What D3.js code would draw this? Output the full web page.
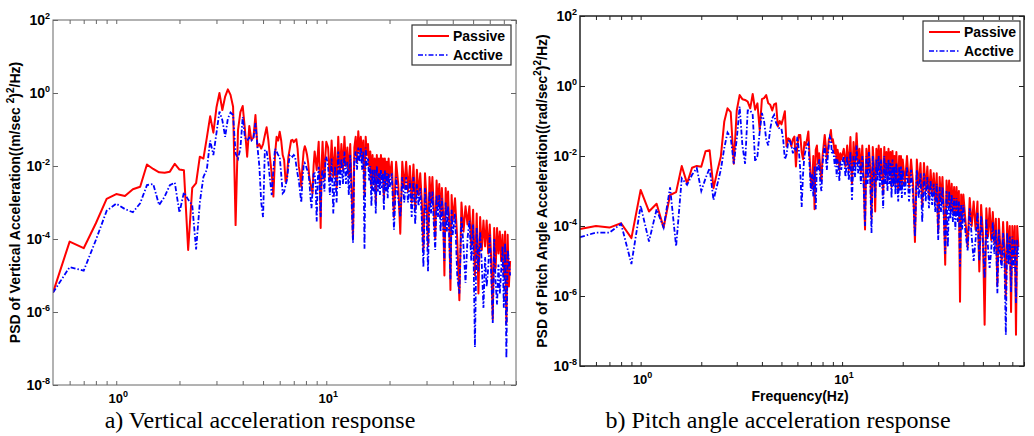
<!DOCTYPE html>
<html>
<head>
<meta charset="utf-8">
<script src="https://cdn.jsdelivr.net/npm/d3@7"></script>
<style>
  body { margin: 0; background: #fff; }
  svg { display: block; }
  text { font-family: Arial, "Liberation Sans", sans-serif; }
  text.caption { font-family: "Liberation Serif", "Times New Roman", serif; }
</style>
</head>
<body>
<svg id="chart" width="1034" height="436"></svg>
<script>
// frequency bins (Hz), shared by both panels
var freqHz = [
  0.5,0.6,0.7,0.8,0.9,1.0,1.1,1.2,1.3,1.4,
  1.5,1.6,1.7,1.8,1.9,2.0,2.1,2.2,2.3,2.4,
  2.5,2.6,2.7,2.8,2.9,3.0,3.1,3.2,3.3,3.4,
  3.5,3.6,3.7,3.8,3.9,4.0,4.1,4.2,4.3,4.4,
  4.5,4.6,4.7,4.8,4.9,5.0,5.1,5.2,5.3,5.4,
  5.5,5.6,5.7,5.8,5.9,6.0,6.1,6.2,6.3,6.4,
  6.5,6.6,6.7,6.8,6.9,7.0,7.1,7.2,7.3,7.4,
  7.5,7.6,7.7,7.8,7.9,8.0,8.1,8.2,8.3,8.4,
  8.5,8.6,8.7,8.8,8.9,9.0,9.1,9.2,9.3,9.4,
  9.5,9.6,9.7,9.8,9.9,10.0,
  10.2,10.4,10.6,10.8,11.0,11.2,11.4,11.6,11.8,12.0,
  12.2,12.4,12.6,12.8,13.0,13.2,13.4,13.6,13.8,14.0,
  14.2,14.4,14.6,14.8,15.0,15.2,15.4,15.6,15.8,16.0,
  16.2,16.4,16.6,16.8,17.0,17.2,17.4,17.6,17.8,18.0,
  18.2,18.4,18.6,18.8,19.0,19.2,19.4,19.6,19.8,20.0,
  20.5,21.0,21.5,22.0,22.5,23.0,23.5,24.0,24.5,25.0,
  25.5,26.0,26.5,27.0,27.5,28.0,28.5,29.0,29.5,30.0,
  30.5,31.0,31.5,32.0,32.5,33.0,33.5,34.0,34.5,35.0,
  35.5,36.0,36.5,37.0,37.5,38.0,38.5,39.0,39.5,40.0,
  41,42,43,44,45,46,47,48,49,50,
  51,52,53,54,55,56,57,58,59,60,
  61,62,63,64,65,66,67,68,69,70,
  71,72,73,74,75
];

// a) vertical acceleration PSD, (m/s^2)^2/Hz
var passiveVert = [
  3.4e-6,8.5e-5,5.6e-5,2.7e-4,1.25e-3,1.7e-3,1.5e-3,2.3e-3,2.7e-3,1.1e-2,
  8.3e-3,6.7e-3,6.5e-3,7e-3,1.15e-2,8e-3,7.6e-3,5e-5,2.5e-3,3.4e-3,
  1.8e-2,1.6e-2,6e-2,0.23,0.082,0.4,1.0,0.34,0.8,1.26,
  0.89,0.42,2.4e-4,0.097,0.3,0.44,0.1,0.018,0.125,0.052,
  0.06,0.25,0.034,0.04,0.03,0.04,0.07,0.115,0.05,0.016,
  0.006,1.45e-3,0.02,0.063,0.05,0.087,0.05,0.02,0.0146,3.7e-3,
  5e-3,0.018,0.03,0.05,0.052,0.045,0.05,0.054,0.03,9.6e-3,
  0.006,2.7e-3,0.01,0.025,0.035,0.028,0.02,0.012,5e-3,3.4e-3,
  2.5e-3,1.8e-3,0.01,0.025,0.015,7.8e-3,0.02,0.046,5e-3,2e-4,
  0.01,0.046,0.01,4.1e-3,0.02,0.046,
  3.2e-2,4e-3,5e-2,5e-3,3.2e-2,2.5e-3,6.3e-2,6.3e-3,4e-2,7.9e-3,
  6.3e-2,1e-2,3.2e-2,5e-3,4e-2,2.5e-3,1e-4,3.2e-2,6.3e-2,1.3e-2,
  8.9e-2,2.5e-2,6.3e-2,1.6e-2,5e-2,1.6e-3,6.3e-2,2e-2,4e-2,1e-2,
  2.5e-2,2.5e-3,2e-2,5e-3,1.6e-2,1e-3,2e-2,4e-3,1.6e-2,3.2e-3,
  2e-2,6.3e-3,1.6e-2,1.3e-3,1.6e-2,4e-3,1.3e-2,2.5e-3,1.6e-2,5e-3,
  1.3e-2,4e-4,1.3e-2,3.2e-3,1.4e-4,1.3e-2,2.5e-3,1.3e-2,2e-3,1e-2,
  1e-3,1.1e-2,6.3e-4,7.9e-3,1.6e-3,6.3e-3,1e-3,5e-5,6.3e-3,1.3e-3,
  6.3e-5,5e-3,1e-3,5e-3,6.3e-4,1e-4,4e-3,7.9e-4,3.2e-3,4e-4,
  2.5e-3,5e-4,1e-5,2.5e-3,5e-4,2e-3,2.5e-4,4e-6,1.6e-3,3.2e-4,
  1.3e-3,1e-4,2.1e-6,1e-3,1.6e-4,7.9e-4,2.5e-4,7.9e-4,6.3e-5,6.3e-4,
  1e-5,5e-4,3.2e-6,4e-4,5e-5,3.2e-4,6.3e-5,3.2e-4,4e-5,2.5e-4,
  2.5e-5,6.3e-7,2e-4,1.6e-5,2e-4,4e-5,1.6e-4,2.5e-5,1.3e-4,1e-5,
  1.6e-4,5e-7,1.3e-4,5e-6,2.5e-5
];
var activeVert = [
  3.4e-6,1.7e-5,1.35e-5,9.4e-5,5.9e-4,9.3e-4,6.6e-4,5.4e-4,9.5e-4,3e-3,
  3.2e-3,8.5e-4,1.45e-3,3e-3,3.5e-3,5.3e-4,1.9e-3,1.2e-3,8.5e-4,5.2e-5,
  1e-3,5e-3,8e-3,0.05,0.02,0.08,0.31,0.18,0.063,0.2,
  0.29,0.25,0.022,0.016,0.03,0.22,0.06,0.05,0.06,0.05,
  0.06,0.15,0.034,0.01,1e-3,4e-4,0.028,0.025,0.012,4e-3,
  1.6e-3,8e-3,0.03,0.025,0.02,0.018,6e-3,1.8e-3,2e-3,3e-3,
  4.2e-3,0.01,0.02,0.02,0.018,0.02,0.018,0.01,6e-3,4e-3,
  2e-3,1e-3,4e-3,0.01,0.012,0.01,8e-3,7e-3,4e-3,1.5e-3,
  7e-4,2e-3,6e-3,6.3e-3,3e-3,3e-4,4e-3,9.5e-3,3e-3,4e-4,
  5e-3,8e-3,4e-3,2e-3,0.014,0.018,
  1e-2,1.6e-3,1.6e-2,5e-4,1e-2,1e-3,2.5e-2,2.5e-3,1.6e-2,3.2e-3,
  2.5e-2,3.2e-3,1.3e-2,1.6e-3,2e-2,1e-3,7.9e-5,1.6e-2,2.5e-2,7.9e-3,
  3.2e-2,1.3e-2,3.2e-2,7.9e-3,2.5e-2,5.4e-5,3.2e-2,1e-2,1.6e-2,4e-3,
  1e-2,7.9e-4,7.9e-3,2e-3,7.9e-3,5e-4,1e-2,2e-3,6.3e-3,1.6e-3,
  7.9e-3,2.5e-3,6.3e-3,6.3e-4,7.9e-3,2e-3,6.3e-3,1.3e-3,6.3e-3,2.5e-3,
  6.3e-3,1.8e-4,5e-3,1.3e-3,4e-4,5e-3,1e-3,5e-3,1e-3,4e-3,
  4e-4,5e-3,2.5e-4,3.2e-3,7.9e-4,2.5e-3,3.2e-4,1.7e-5,2.5e-3,5e-4,
  1.3e-5,2e-3,5e-4,2e-3,2.5e-4,5e-5,1.6e-3,4e-4,1.6e-3,1.6e-4,
  1.3e-3,2.5e-4,2.5e-5,1e-3,1.6e-4,7.9e-4,1e-4,7.9e-6,6.3e-4,1.3e-4,
  5e-4,1e-5,3.2e-6,4e-4,6.3e-5,6.3e-6,1e-4,3.2e-4,2.5e-5,2.5e-4,
  1.1e-7,2e-4,1.3e-5,1.6e-4,2e-5,1.3e-6,3.2e-5,5e-6,1.6e-5,1.3e-4,
  1e-5,5e-7,1e-4,6.3e-6,1.6e-6,2e-5,3.2e-6,1.3e-5,6.3e-5,1.3e-6,
  7.9e-5,5.4e-8,5e-5,2.5e-5,1e-5
];

// b) pitch angle acceleration PSD, (rad/s^2)^2/Hz
var passivePitch = [
  8.2e-5,1e-4,9e-5,1.2e-4,4.5e-5,1.07e-3,2.6e-4,4.3e-4,9e-5,7.7e-4,
  9.3e-4,5.2e-3,1.65e-3,4.6e-3,5.2e-3,4.9e-3,0.0136,0.0146,1.2e-3,3.6e-3,
  9.5e-3,0.095,0.23,0.18,6e-3,0.2,0.55,0.42,0.4,0.36,
  0.23,0.59,0.21,0.32,0.055,0.42,0.45,0.55,0.32,0.29,
  0.2,0.3,0.32,0.07,0.1,0.08,0.12,0.19,0.019,0.032,
  0.03,0.019,0.03,0.036,5e-3,0.02,0.04,0.04,0.013,8e-3,
  0.025,0.02,0.03,0.05,0.01,2e-3,1.2e-3,0.01,3e-4,0.015,
  0.02,6e-3,0.012,4e-3,2e-3,0.01,0.02,0.04,0.02,8e-3,
  0.015,0.03,0.035,0.055,0.025,0.03,0.02,0.012,0.02,6e-3,
  0.015,0.01,4e-3,0.012,8e-3,0.01,
  1.6e-2,5e-3,2e-2,4e-3,3.5e-2,1.6e-3,2.5e-2,5e-3,4.5e-2,6.3e-3,
  1.6e-2,3.2e-3,2e-2,2.5e-3,7.9e-5,1.6e-2,3.2e-3,2e-2,4e-3,1.6e-4,
  1.8e-2,5e-3,2.6e-4,1.6e-2,4e-3,2e-2,2.5e-3,1.6e-2,3.2e-3,7.9e-4,
  1.8e-2,3.2e-3,1.3e-2,2e-3,1.6e-2,3.2e-3,1.3e-2,1.3e-3,1.4e-2,2.5e-3,
  1e-2,1.6e-3,1.3e-2,2.5e-3,1e-3,1e-2,2e-3,1e-2,1.3e-3,7.9e-3,
  1.6e-3,1e-2,1.3e-3,7.9e-3,1.6e-3,3.5e-5,7.9e-3,1.3e-3,6.3e-3,4e-4,
  6.3e-3,1e-3,5e-3,6.3e-4,4e-3,7.9e-4,3.2e-3,5e-4,3.2e-3,6.3e-5,
  2.5e-3,5e-4,2.5e-3,3.2e-4,7.8e-6,2e-3,4e-4,2e-3,3.2e-4,1.6e-3,
  2.5e-4,1.3e-3,2e-4,1.3e-3,2.5e-4,1e-3,6.9e-7,7.9e-4,1.6e-4,7.9e-4,
  1.3e-4,2.5e-5,6.3e-4,1e-4,5e-4,7.9e-5,5e-4,5e-6,4e-4,6.3e-5,
  1.5e-7,3.2e-4,5e-5,3.2e-4,4e-5,2.5e-4,3.2e-5,1.6e-4,2e-6,1.6e-4,
  2.5e-5,1e-5,1.3e-4,2e-5,1e-6,1.3e-4,1.6e-5,1e-4,3.5e-7,1e-4,
  1.3e-5,1e-4,7.8e-8,1e-4,2.5e-5
];
var activePitch = [
  4.8e-5,6.5e-5,6.5e-5,1.15e-4,8.2e-6,3.8e-4,3.6e-5,3e-4,9e-5,1.27e-3,
  2.6e-5,2.3e-3,1.5e-3,2.9e-3,4.5e-3,1e-3,2.3e-3,4.5e-3,5.5e-4,1.5e-3,
  4e-3,0.0166,0.047,0.034,6e-3,0.03,0.26,0.02,6e-3,0.2,
  0.2,0.15,7e-3,0.01,0.05,0.17,0.1,0.03,0.02,0.06,
  0.12,0.15,0.09,0.07,0.06,0.06,0.03,8e-3,0.011,0.025,
  0.03,0.02,0.012,0.018,0.015,0.035,0.015,4e-3,3.5e-4,3e-3,
  0.01,0.015,0.02,0.023,5e-3,1e-3,3e-3,7e-4,5e-3,3e-4,
  6e-3,4e-3,8e-3,1.5e-3,1e-3,6e-3,0.012,0.02,0.01,4e-3,
  0.01,0.02,0.035,0.03,0.012,0.015,0.01,5e-3,0.01,2.5e-3,
  8e-3,5e-3,1.9e-3,7e-3,4e-3,6e-3,
  1e-2,2.5e-3,1e-2,2e-3,1.3e-2,5.5e-4,1e-2,2.5e-3,2e-2,3.2e-3,
  7.9e-3,1.6e-3,1e-2,1.3e-3,1e-4,1e-2,1.6e-3,1.3e-2,2e-3,6.3e-5,
  1e-2,2.5e-3,6.3e-4,7.9e-3,2e-3,1e-2,1.3e-3,7.9e-3,1.6e-3,3.2e-4,
  1e-2,1.6e-3,6.3e-3,1e-3,7.9e-3,1.6e-3,6.3e-3,6.3e-4,7.9e-3,1.3e-3,
  5e-3,7.9e-4,6.3e-3,1.3e-3,5e-4,5e-3,1e-3,5e-3,6.3e-4,4e-3,
  7.9e-4,5e-3,5e-4,4e-3,7.9e-4,5e-5,4e-3,6.3e-4,3.2e-3,1.3e-4,
  3.2e-3,5e-4,2.5e-3,3.2e-4,2e-3,4e-4,1.6e-3,2.5e-4,1.6e-3,4e-5,
  1.3e-3,2.5e-4,1.3e-3,1.6e-4,1.6e-5,1e-3,2.5e-5,1e-3,1.6e-4,7.9e-4,
  1.3e-4,6.3e-4,7.9e-5,6.3e-4,1.3e-4,5e-4,6.9e-6,4e-4,7.9e-5,4e-4,
  6.3e-5,2e-5,3.2e-4,5e-5,1e-5,4e-5,2.5e-4,1e-5,2e-4,3.2e-5,
  3.2e-6,1.6e-4,2.5e-5,6.3e-6,2e-5,1.3e-4,1.6e-5,7.9e-5,1.2e-6,7.9e-5,
  1.3e-5,6.3e-6,6.3e-5,1e-5,7.8e-8,6.3e-5,7.9e-6,5e-5,1.3e-6,5e-5,
  6.3e-6,4e-5,6.3e-7,4e-5,1.3e-5
];

var seriesNames = ["Passive", "Acctive"];
var xMajorTicks = [1, 10];
var xMinorTicks = [0.6, 0.7, 0.8, 0.9, 2, 3, 4, 5, 6, 7, 8, 9, 20, 30, 40, 50, 60, 70, 80];
var yTicks = [1e2, 1, 1e-2, 1e-4, 1e-6, 1e-8];

[passiveVert, activeVert, passivePitch, activePitch].forEach(function (s) {
  if (s.length !== freqHz.length) throw new Error("length mismatch " + s.length + " vs " + freqHz.length);
});

var svg = d3.select("#chart");
svg.append("rect").attr("width", 1034).attr("height", 436).attr("fill", "#fff");

var panels = [
  {
    id: "a", left: 53, right: 516, top: 20, bottom: 385,
    passive: passiveVert, active: activeVert,
    yTitle: [["PSD of Vertical Acceleration((m/sec "], ["2", 1], [")"], ["2", 1], ["/Hz)"]],
    yTitleX: 20,
    caption: "a) Vertical acceleration response", captionX: 260,
    xTitle: null,
    legend: { x: 412, y: 25, w: 99, h: 40 },
    frame: "#666", frameW: 1
  },
  {
    id: "b", left: 580, right: 1024, top: 16, bottom: 366,
    passive: passivePitch, active: activePitch,
    yTitle: [["PSD of Pitch Angle Acceleration((rad/sec"], ["2", 1], [")"], ["2", 1], ["/Hz)"]],
    yTitleX: 547,
    caption: "b) Pitch angle acceleration response", captionX: 778,
    xTitle: "Frequency(Hz)",
    legend: { x: 923, y: 21, w: 97, h: 40 },
    frame: "#222", frameW: 1.5
  }
];

function supText(sel, parts, supSize) {
  var raised = false;
  parts.forEach(function (p) {
    var t = sel.append("tspan").text(p[0]);
    if (p[1]) {
      t.attr("font-size", supSize).attr("dy", raised ? 0 : -6);
      raised = true;
    } else if (raised) {
      t.attr("dy", 6);
      raised = false;
    }
  });
}

panels.forEach(function (p) {
  var g = svg.append("g");
  var x = d3.scaleLog().domain([0.5, 80]).range([p.left, p.right]);
  var y = d3.scaleLog().domain([1e-8, 1e2]).range([p.bottom, p.top]);

  g.append("clipPath").attr("id", "clip-" + p.id)
    .append("rect").attr("x", p.left).attr("y", p.top)
    .attr("width", p.right - p.left).attr("height", p.bottom - p.top);

  // inward ticks on all four sides
  var noLabel = function () { return ""; };
  function styleAxis(sel) {
    sel.select(".domain").remove();
    sel.selectAll(".tick line").attr("stroke", p.frame).attr("stroke-width", 1);
  }
  g.append("g").attr("transform", "translate(0," + p.bottom + ")")
    .call(d3.axisBottom(x).tickValues(xMinorTicks.concat(xMajorTicks)).tickSizeInner(-4).tickSizeOuter(0).tickFormat(noLabel))
    .call(styleAxis);
  g.append("g").attr("transform", "translate(0," + p.top + ")")
    .call(d3.axisTop(x).tickValues(xMinorTicks.concat(xMajorTicks)).tickSizeInner(-4).tickSizeOuter(0).tickFormat(noLabel))
    .call(styleAxis);
  g.append("g").attr("transform", "translate(" + p.left + ",0)")
    .call(d3.axisLeft(y).tickValues(yTicks).tickSizeInner(-5).tickSizeOuter(0).tickFormat(noLabel))
    .call(styleAxis);
  g.append("g").attr("transform", "translate(" + p.right + ",0)")
    .call(d3.axisRight(y).tickValues(yTicks).tickSizeInner(-5).tickSizeOuter(0).tickFormat(noLabel))
    .call(styleAxis);

  // tick labels 10^n
  xMajorTicks.forEach(function (v) {
    var t = g.append("text").attr("x", x(v) + 2).attr("y", p.bottom + 18)
      .attr("text-anchor", "middle").attr("font-size", 13).attr("font-weight", "bold");
    supText(t, [["10"], [String(Math.round(Math.log10(v))), 1]], 9);
  });
  yTicks.forEach(function (v) {
    var t = g.append("text").attr("x", p.left - 3).attr("y", y(v) + 5)
      .attr("text-anchor", "end").attr("font-size", 14).attr("font-weight", "bold");
    supText(t, [["10"], [String(Math.round(Math.log10(v))), 1]], 9);
  });

  // series: passive (solid red) under active (dash-dot blue)
  var line = d3.line().x(function (d) { return x(d[0]); }).y(function (d) { return y(d[1]); });
  var plot = g.append("g").attr("clip-path", "url(#clip-" + p.id + ")");
  plot.append("path")
    .datum(freqHz.map(function (f, i) { return [f, p.passive[i]]; }))
    .attr("d", line).attr("fill", "none").attr("stroke", "#ff0000")
    .attr("stroke-width", 2).attr("stroke-linejoin", "round");
  plot.append("path")
    .datum(freqHz.map(function (f, i) { return [f, p.active[i]]; }))
    .attr("d", line).attr("fill", "none").attr("stroke", "#0000ff")
    .attr("stroke-width", 1.8).attr("stroke-dasharray", "5,2,1.5,2");

  // frame
  g.append("rect").attr("x", p.left).attr("y", p.top)
    .attr("width", p.right - p.left).attr("height", p.bottom - p.top)
    .attr("fill", "none").attr("stroke", p.frame).attr("stroke-width", p.frameW);

  // legend
  var L = p.legend;
  var lg = g.append("g");
  lg.append("rect").attr("x", L.x).attr("y", L.y).attr("width", L.w).attr("height", L.h)
    .attr("fill", "#fff").attr("stroke", "#333").attr("stroke-width", 1.2);
  [["#ff0000", null, 2], ["#0000ff", "5,2,1.5,2", 1.7]].forEach(function (s, i) {
    var cy = L.y + 11 + i * 19;
    lg.append("line").attr("x1", L.x + 6).attr("x2", L.x + 37).attr("y1", cy).attr("y2", cy)
      .attr("stroke", s[0]).attr("stroke-width", s[2]).attr("stroke-dasharray", s[1]);
    lg.append("text").attr("x", L.x + 41).attr("y", cy + 5)
      .attr("font-size", 14).attr("font-weight", "bold").text(seriesNames[i]);
  });

  // y title
  var yc = (p.top + p.bottom) / 2;
  var yt = g.append("text").attr("transform", "translate(" + p.yTitleX + "," + yc + ") rotate(-90)")
    .attr("text-anchor", "middle").attr("font-size", 14).attr("font-weight", "bold");
  supText(yt, p.yTitle, 10);

  if (p.xTitle) {
    g.append("text").attr("x", (p.left + p.right) / 2 - 2).attr("y", p.bottom + 35)
      .attr("text-anchor", "middle").attr("font-size", 14).attr("font-weight", "bold").text(p.xTitle);
  }

  g.append("text").attr("class", "caption").attr("x", p.captionX).attr("y", 428)
    .attr("text-anchor", "middle").attr("font-size", 24)
    .text(p.caption);
});
</script>
</body>
</html>
